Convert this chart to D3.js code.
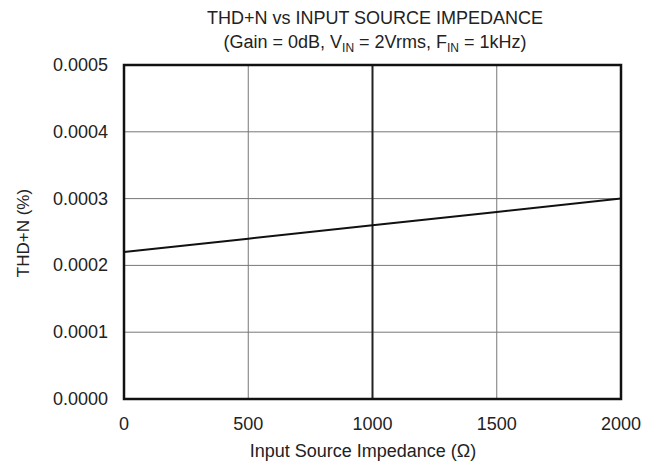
<!DOCTYPE html>
<head>
<meta charset="utf-8">
<script src="https://d3js.org/d3.v7.min.js"></script>
<style>
body { margin: 0; background: #fff; }
text { font-family: "Liberation Sans", Arial, sans-serif; fill: #222; }
</style>
</head>
<body>
<div id="chart"></div>
<script>
var impedance = [0, 500, 1000, 1500, 2000];
var thdn = [0.00022, 0.00024, 0.00026, 0.00028, 0.00030];
var xTicks = [0, 500, 1000, 1500, 2000];
var yTicks = [0, 0.0001, 0.0002, 0.0003, 0.0004, 0.0005];

var margin = {top: 65, right: 42, bottom: 67, left: 124},
    width = 663 - margin.left - margin.right,
    height = 466 - margin.top - margin.bottom;

var svg = d3.select("#chart")
  .append("svg")
    .attr("width", 663)
    .attr("height", 466);

var g = svg.append("g")
    .attr("transform", "translate(" + margin.left + "," + margin.top + ")");

var x = d3.scaleLinear().domain([0, 2000]).range([0, width]);
var y = d3.scaleLinear().domain([0, 0.0005]).range([height, 0]);

// grid
g.selectAll(".hgrid")
  .data(yTicks)
  .enter().append("line")
    .attr("x1", 0).attr("x2", width)
    .attr("y1", function(d) { return y(d); })
    .attr("y2", function(d) { return y(d); })
    .style("stroke", "#777")
    .style("stroke-width", 1);

g.selectAll(".vgrid")
  .data(xTicks)
  .enter().append("line")
    .attr("y1", 0).attr("y2", height)
    .attr("x1", function(d) { return x(d); })
    .attr("x2", function(d) { return x(d); })
    .style("stroke", function(d) { return d == 1000 ? "#222" : "#777"; })
    .style("stroke-width", function(d) { return d == 1000 ? 2 : 1; });

g.append("rect")
  .attr("width", width)
  .attr("height", height)
  .style("fill", "none")
  .style("stroke", "#111")
  .style("stroke-width", 2.5);

// tick labels
g.selectAll(".xlab")
  .data(xTicks)
  .enter().append("text")
    .attr("x", function(d) { return x(d); })
    .attr("y", height + 31)
    .attr("text-anchor", "middle")
    .style("font-size", "18px")
    .text(function(d) { return d; });

g.selectAll(".ylab")
  .data(yTicks)
  .enter().append("text")
    .attr("x", -16)
    .attr("y", function(d) { return y(d) + 6; })
    .attr("text-anchor", "end")
    .style("font-size", "18px")
    .text(function(d) { return d3.format(".4f")(d); });

// line
var line = d3.line()
  .x(function(d, i) { return x(impedance[i]); })
  .y(function(d) { return y(d); });

g.append("path")
  .datum(thdn)
  .attr("d", line)
  .style("fill", "none")
  .style("stroke", "#111")
  .style("stroke-width", 2);

// titles
svg.append("text")
  .attr("x", 375).attr("y", 24)
  .attr("text-anchor", "middle")
  .style("font-size", "18px")
  .text("THD+N vs INPUT SOURCE IMPEDANCE");

var sub = svg.append("text")
  .attr("x", 375).attr("y", 48)
  .attr("text-anchor", "middle")
  .style("font-size", "18px");
sub.append("tspan").text("(Gain = 0dB, V");
sub.append("tspan").attr("dy", 4).style("font-size", "12px").text("IN");
sub.append("tspan").attr("dy", -4).text(" = 2Vrms, F");
sub.append("tspan").attr("dy", 4).style("font-size", "12px").text("IN");
sub.append("tspan").attr("dy", -4).text(" = 1kHz)");

svg.append("text")
  .attr("x", 363).attr("y", 457)
  .attr("text-anchor", "middle")
  .style("font-size", "18px")
  .text("Input Source Impedance (\u03A9)");

svg.append("text")
  .attr("transform", "translate(29," + 233 + ") rotate(-90)")
  .attr("text-anchor", "middle")
  .style("font-size", "17px")
  .text("THD+N (%)");
</script>
</body>
